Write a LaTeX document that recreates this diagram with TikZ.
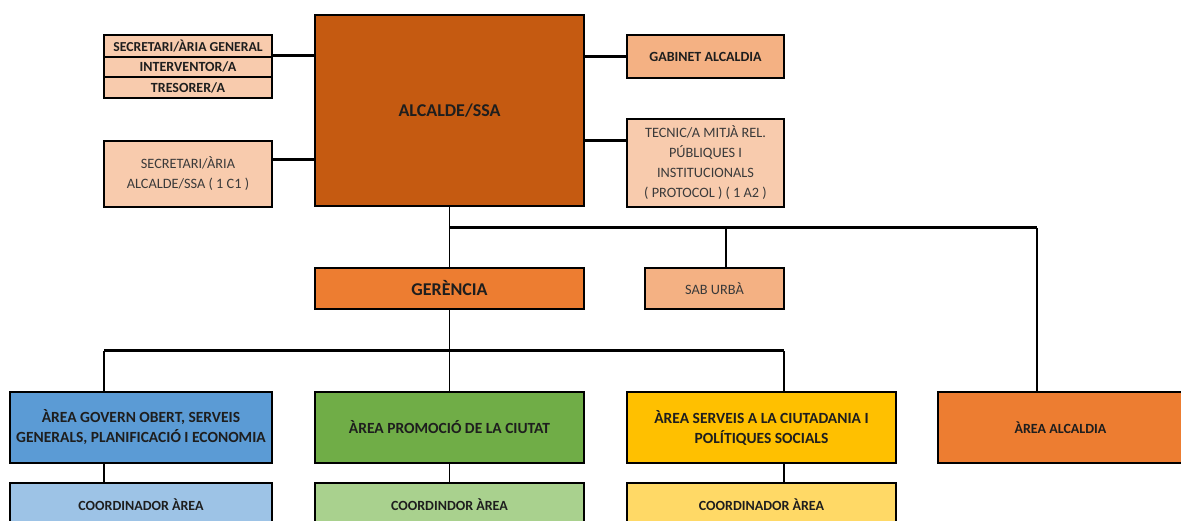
\documentclass[tikz,border=0pt]{standalone}
\usepackage{fontspec}
\setmainfont{Carlito}

\definecolor{alcaldeC}{HTML}{C55A11}
\definecolor{peachC}{HTML}{F8CBAD}
\definecolor{salmonC}{HTML}{F4B183}
\definecolor{orangeC}{HTML}{ED7D31}
\definecolor{blueC}{HTML}{5B9BD5}
\definecolor{blueL}{HTML}{9DC3E6}
\definecolor{greenC}{HTML}{70AD47}
\definecolor{greenL}{HTML}{A9D18E}
\definecolor{yellowC}{HTML}{FFC000}
\definecolor{yellowL}{HTML}{FFD966}
\definecolor{txtgray}{HTML}{3A3A3A}
\definecolor{txtdark}{HTML}{1E1E1E}

\begin{document}
\begin{tikzpicture}[x=1pt,y=-1pt,
  box/.style={draw=black, line width=2.6pt, inner sep=0pt, outer sep=0pt,
              align=center, text=txtdark},
  sml/.style={font=\fontsize{13.7}{20}\selectfont\bfseries},
  lbl/.style={font=\fontsize{14}{20}\selectfont\bfseries},
  area/.style={font=\fontsize{15.5}{20}\selectfont\bfseries},
  reg/.style={font=\fontsize{14.3}{20}\selectfont, text=txtgray},
  big/.style={font=\fontsize{18}{22}\selectfont\bfseries},
  bus/.style={line width=3pt},
  tap/.style={line width=1.2pt}]

\clip (0,0) rectangle (1181,521);

% top level
\node[box, big, fill=alcaldeC, minimum width=269pt, minimum height=191pt] (alc) at (449.5,110.5) {ALCALDE/SSA};

\node[box, sml, fill=peachC, minimum width=168pt, minimum height=22pt] (sg1) at (188,46) {SECRETARI/ÀRIA GENERAL};
\node[box, lbl, fill=peachC, minimum width=168pt, minimum height=20pt] (sg2) at (188,67) {INTERVENTOR/A};
\node[box, lbl, fill=peachC, minimum width=168pt, minimum height=21pt] (sg3) at (188,87.5) {TRESORER/A};
\node[box, reg, fill=peachC, minimum width=168pt, minimum height=66pt] (secalc) at (188,174) {SECRETARI/ÀRIA\\ALCALDE/SSA ( 1 C1 )};

\node[box, lbl, fill=salmonC, minimum width=157pt, minimum height=43pt] (gab) at (705.5,56.5) {GABINET ALCALDIA};
\node[box, reg, fill=peachC, minimum width=157pt, minimum height=88pt] (tec) at (705.5,163) {TECNIC/A MITJÀ REL.\\PÚBLIQUES I\\INSTITUCIONALS\\( PROTOCOL ) ( 1 A2 )};

\draw[bus] ([yshift=1pt]sg1.south east) -- ([yshift=1pt]sg1.south east -| alc.west);
\draw[bus] ([yshift=14pt]secalc.east) -- ([yshift=14pt]secalc.east -| alc.west);
\draw[bus] (gab.west) -- (gab.west -| alc.east);
\draw[bus] ([yshift=22pt]tec.west) -- ([yshift=22pt]tec.west -| alc.east);

% second level
\node[box, big, fill=orangeC, minimum width=269pt, minimum height=41pt] (ger) at (449.5,288.5) {GERÈNCIA};
\node[box, reg, fill=salmonC, minimum width=139pt, minimum height=41pt] (sab) at (714.5,288.5) {SAB URBÀ};

% areas
\node[box, area, fill=blueC, minimum width=262pt, minimum height=71pt] (a1) at (141,427.5) {ÀREA GOVERN OBERT, SERVEIS\\GENERALS, PLANIFICACIÓ I ECONOMIA};
\node[box, area, fill=greenC, minimum width=269pt, minimum height=71pt] (a2) at (449.5,427.5) {ÀREA PROMOCIÓ DE LA CIUTAT};
\node[box, area, fill=yellowC, minimum width=269pt, minimum height=71pt] (a3) at (761.5,427.5) {ÀREA SERVEIS A LA CIUTADANIA I\\POLÍTIQUES SOCIALS};
\node[box, lbl, fill=orangeC, minimum width=245pt, minimum height=71pt] (a4) at (1060.5,427.5) {ÀREA ALCALDIA};

\node[box, lbl, fill=blueL, minimum width=262pt, minimum height=44pt] (c1) at (141,505) {COORDINADOR ÀREA};
\node[box, lbl, fill=greenL, minimum width=269pt, minimum height=44pt] (c2) at (449.5,505) {COORDINDOR ÀREA};
\node[box, lbl, fill=yellowL, minimum width=269pt, minimum height=44pt] (c3) at (761.5,505) {COORDINADOR ÀREA};

% connectors
\coordinate (busA) at (1037,228);
\coordinate (sabtap) at (726,228);
\draw[tap] (alc.south) -- (ger.north);
\draw[bus] (alc.south |- busA) -- (busA);
\draw[tap] (busA) -- (busA |- a4.north);
\draw[tap] (sabtap) -- (sabtap |- sab.north);

\coordinate (t1) at (104,351);
\coordinate (t3) at (784,351);
\draw[tap] (ger.south) -- (ger.south |- t1);
\draw[bus] (t1) -- (t3);
\draw[tap] (t1) -- (t1 |- a1.north);
\draw[tap] (ger.south |- t1) -- (a2.north);
\draw[tap] (t3) -- (t3 |- a3.north);
\draw[tap] (a1.south -| t1) -- (c1.north -| t1);
\draw[tap] (a2.south) -- (c2.north);
\draw[tap] (a3.south -| t3) -- (c3.north -| t3);
\end{tikzpicture}
\end{document}
